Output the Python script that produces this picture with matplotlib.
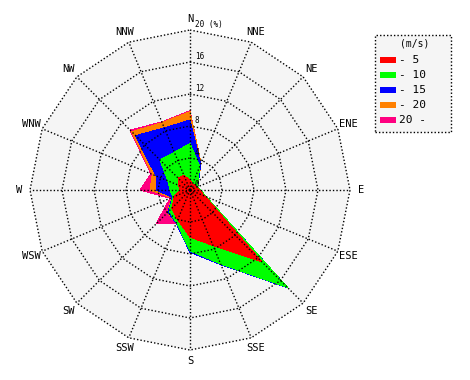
import numpy as np
import matplotlib
matplotlib.use("Agg")
import matplotlib.pyplot as plt
from matplotlib.patches import Polygon, Rectangle

# 16 направлений
dirs = ["N", "NNE", "NE", "ENE", "E", "ESE", "SE", "SSE",
        "S", "SSW", "SW", "WSW", "W", "WNW", "NW", "NNW"]

# повторяемость (%) по классам скорости
spd_5 = [1.2, 0.8, 0.9, 0.9, 1.2, 2.0, 12.7, 7.5, 5.9, 4.0, 3.2, 2.1, 1.2, 1.6, 2.1, 2.0]
spd_10 = [4.6, 2.4, 0.5, 0.1, 0.1, 0.2, 4.5, 2.5, 1.7, 0.4, 0.5, 0.2, 1.3, 1.4, 3.2, 3.1]
spd_15 = [2.95, 0.3, 0.1, 0.0, 0.0, 0.0, 0.1, 0.1, 0.2, 0.1, 0.2, 0.1, 1.7, 1.6, 4.3, 3.3]
spd_20 = [1.05, 0.1, 0.0, 0.0, 0.0, 0.0, 0.0, 0.0, 0.0, 0.0, 0.1, 0.1, 0.8, 0.5, 0.7, 0.7]
spd_over = [0.1, 0.0, 0.0, 0.0, 0.0, 0.0, 0.0, 0.0, 0.0, 0.0, 2.0, 0.2, 1.25, 0.2, 0.3, 0.1]

classes = ["- 5", "- 10", "- 15", "- 20", "20 -"]
colors = ["#ff0000", "#00ff00", "#0000ff", "#ff8000", "#ff0080"]
rings = [4, 8, 12, 16, 20]

mono = "DejaVu Sans Mono"

fig = plt.figure(figsize=(4.7, 3.8), dpi=100)
ax = fig.add_axes([0, 0, 1, 1])
ax.set_xlim(-23.75, 35)
ax.set_ylim(-23.75, 23.75)
ax.axis("off")

ang = np.radians(np.arange(16) * 22.5)
sx = np.sin(ang)
cy = np.cos(ang)


def ring(r):
    return np.column_stack([r * sx, r * cy])


# фон
ax.add_patch(Polygon(ring(20), closed=True, facecolor="#f5f5f5", edgecolor="none", zorder=0))

# накопленные значения, рисуем от большего к меньшему
cum = np.cumsum(np.array([spd_5, spd_10, spd_15, spd_20, spd_over]), axis=0)
for k in range(4, -1, -1):
    ax.add_patch(Polygon(ring(cum[k]), closed=True, facecolor=colors[k],
                         edgecolor="none", antialiased=False, zorder=1 + (4 - k)))

# сетка
for r in rings:
    pts = ring(r)
    pts = np.vstack([pts, pts[:1]])
    ax.plot(pts[:, 0], pts[:, 1], color="black", lw=1, ls=(0, (1, 1.5)), zorder=10)
for i in range(16):
    ax.plot([0, 20 * sx[i]], [0, 20 * cy[i]], color="black", lw=1, ls=(0, (1, 1.5)), zorder=10)

# подписи направлений
for i, d in enumerate(dirs):
    ax.text(21.4 * sx[i], 21.4 * cy[i], d, ha="center", va="center",
            fontsize=7.5, family=mono, zorder=11)

# подписи колец
ax.text(0.6, 0.15, "0", fontsize=5.5, family=mono, ha="left", va="bottom", zorder=11)
for r in rings:
    txt = str(r) if r < 20 else "20 (%)"
    ax.text(0.6, r + 0.1, txt, fontsize=5.5, family=mono, ha="left", va="bottom", zorder=11)

# легенда
ax.add_patch(Rectangle(((375 - 190) / 8, (190 - 131.5) / 8), 75.5 / 8, 96.5 / 8,
                       facecolor="#f5f5f5", edgecolor="black", lw=1, ls=(0, (1, 1.5)), zorder=12))
ax.text((415 - 190) / 8, (190 - 44) / 8, "(m/s)", fontsize=7, family=mono,
        ha="center", va="center", zorder=13)
for k in range(5):
    py = 60 + 15 * k
    ax.add_patch(Rectangle(((380 - 190) / 8, (190 - py - 2.7) / 8), 16 / 8, 5.4 / 8,
                           facecolor=colors[k], edgecolor="none", antialiased=False, zorder=13))
    ax.text((399 - 190) / 8, (190 - py) / 8, classes[k], fontsize=8, family=mono,
            ha="left", va="center", zorder=13)

fig.savefig("out.png", dpi=100)
